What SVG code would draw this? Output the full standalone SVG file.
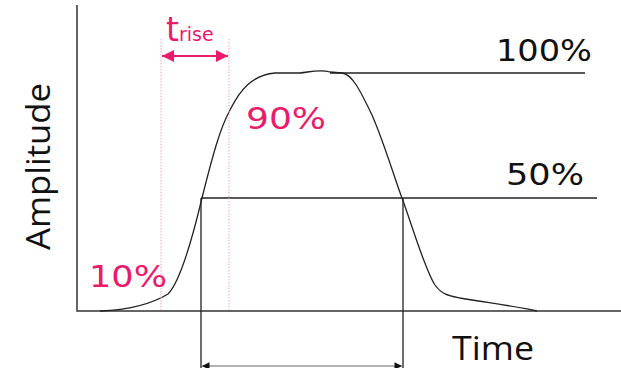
<svg xmlns="http://www.w3.org/2000/svg" width="621" height="368" viewBox="0 0 621 368">
<defs>
<style>
.ax{stroke:#333;stroke-width:1.5;fill:none}
.ln{stroke:#222;stroke-width:1.3;fill:none}
.dot{stroke:#f5a3bd;stroke-width:1;stroke-dasharray:1.5 1.5;fill:none}
.pk{fill:#ec1a6b;font-family:"DejaVu Sans",Verdana,sans-serif}
.bk{fill:#111;font-family:"DejaVu Sans",Verdana,sans-serif;font-size:31px}
.lab{fill:#111;font-family:"Open Sans","Noto Sans",sans-serif;font-size:32px}
</style>
<marker id="pa" viewBox="0 0 10 10" refX="10" refY="5" markerWidth="7" markerHeight="6" markerUnits="strokeWidth" orient="auto-start-reverse"><path d="M0,0 L10,5 L0,10 z" fill="#ec1a6b"/></marker>
<marker id="ba" viewBox="0 0 10 10" refX="10" refY="5" markerWidth="6" markerHeight="5" markerUnits="strokeWidth" orient="auto-start-reverse"><path d="M0,0 L10,5 L0,10 z" fill="#111"/></marker>
</defs>
<g id="axes">
<path class="ax" d="M77,5 V311 H621"/>
<text class="lab" transform="translate(50,250) rotate(-90)" textLength="167" lengthAdjust="spacingAndGlyphs">Amplitude</text>
<text class="lab" x="452" y="360" textLength="82" lengthAdjust="spacingAndGlyphs">Time</text>
</g>
<g id="signal">
<path class="ln" d="M100,311 C125,310 150,305 168,294 C180,282 192,240 202,198 C212,158 220,128 230,110 C240,90 252,75 275,73 L300,73 C310,72 320,69 330,72 L342,73 C352,74 360,90 372,115 C385,145 395,180 402,198 C412,225 425,270 435,285 C442,295 450,296 460,298 C490,303 520,307 537,311"/>
</g>
<g id="levels">
<path class="ln" d="M330,73 H585"/>
<path class="ln" d="M201,198 H597"/>
<text class="bk" x="496" y="61" textLength="96" lengthAdjust="spacingAndGlyphs">100%</text>
<text class="bk" x="506" y="185" textLength="78" lengthAdjust="spacingAndGlyphs">50%</text>
</g>
<g id="rise">
<path class="dot" d="M161,39 V310 M229,39 V310"/>
<text class="pk" x="166" y="41" font-size="33">t<tspan font-size="19">rise</tspan></text>
<text class="pk" x="246" y="129" font-size="31" textLength="80" lengthAdjust="spacingAndGlyphs">90%</text>
<text class="pk" x="89" y="287" font-size="31" textLength="78" lengthAdjust="spacingAndGlyphs">10%</text>
</g>
<g id="connectors">
<path d="M162,56 H228" stroke="#ec1a6b" stroke-width="2" fill="none" marker-start="url(#pa)" marker-end="url(#pa)"/>
<path class="ln" d="M201,198 V368 M403,198 V368"/>
<path d="M202,366 H402" stroke="#999" stroke-width="1.5" fill="none" marker-start="url(#ba)" marker-end="url(#ba)"/>
</g>
</svg>
